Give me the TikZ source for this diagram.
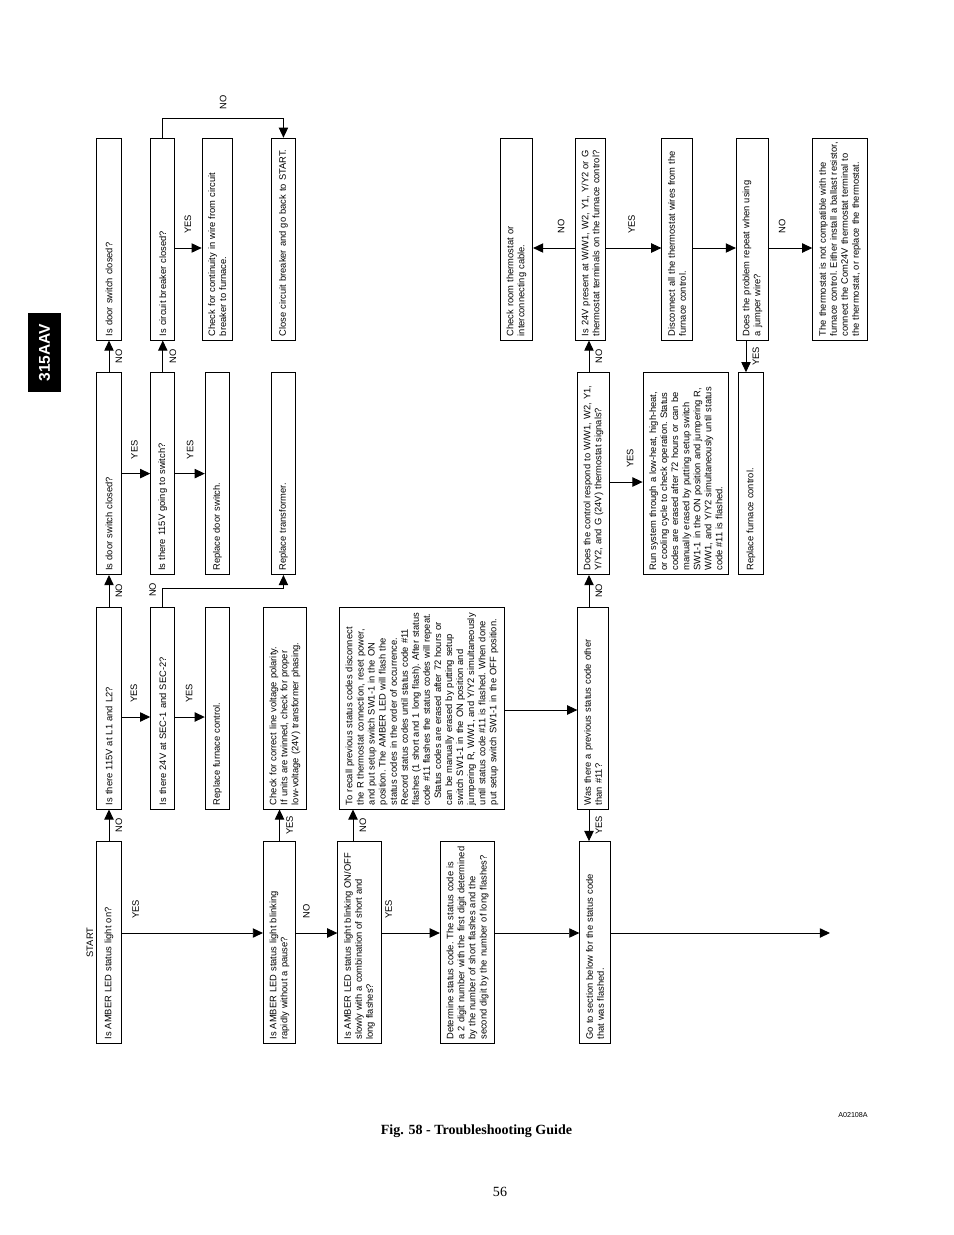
\documentclass[tikz,border=0pt]{standalone}
\usepackage{fontspec}
\setmainfont{Liberation Sans}
\newfontfamily\captionfont{Liberation Serif}
\usetikzlibrary{shapes,arrows.meta}
\tikzset{
  box/.style={draw, rectangle, line width=0.6pt, align=left, text width=124.5pt,
    inner xsep=2.5pt, inner ysep=4pt, minimum height=15.5pt,
    font=\fontsize{6}{7.1}\selectfont\frenchspacing},
  lbl/.style={inner xsep=9pt, inner ysep=4pt, font=\fontsize{6}{7}\selectfont},
}

\begin{document}
\begin{tikzpicture}[x=0.6415pt, y=0.6415pt, line width=0.6pt, >={Triangle[length=6.5pt,width=6pt]}]
    \useasboundingbox (0,0) rectangle (954,-1235);
    % page header and caption
    \node [fill=black, text=white, rotate=90, minimum width=50.7pt, minimum height=21.2pt,
        font=\bfseries\fontsize{10}{12}\selectfont] (model) at (44.5,-352.5) {315AAV};
    \node [font=\captionfont\bfseries\fontsize{9}{11}\selectfont] (caption) at (476.5,-1131) {Fig. 58 - Troubleshooting Guide};
    \node [font=\captionfont\fontsize{9}{11}\selectfont] (pageno) at (500,-1192) {56};
    \node [font=\fontsize{4.6}{6}\selectfont] (figid) at (853,-1115.5) {A02108A};

    \begin{scope}[shift={(0,-1235)}, rotate=90, transform shape, node distance=150.4pt]
    % Drawing blocks
    \node [box] (ledon) at (292.5,-109) {Is AMBER LED status light on?};
    \node [box, right of=ledon] (line115) {Is there 115V at L1 and L2?};
    \node [box, right of=line115] (door1) {Is door switch closed?};
    \node [box, right of=door1] (door2) {Is door switch closed?};
    \node [lbl, node distance=12.2pt, above of=ledon] (start) {START};

    \node [box, node distance=109.4pt, below of=ledon] (rapid) {Is AMBER LED status light blinking\\rapidly without a pause?};
    \node [box, node distance=51.3pt, below of=rapid] (slow) {Is AMBER LED status light blinking ON/OFF\\slowly with a combination of short and\\long flashes?};
    \node [box, node distance=69.3pt, below of=slow] (determ) {Determine status code.  The status code is\\a 2 digit number with the first digit determined\\by the number of short flashes and the\\second digit by the number of long flashes?};
    \node [box, node distance=81.8pt, below of=determ] (gosect) {Go to section below for the status code\\that was flashed.};

    \node [box, node distance=34.5pt, below of=line115] (sec24) {Is there 24V at SEC-1 and SEC-2?};
    \node [box, node distance=35pt, below of=sec24] (repctl1) {Replace furnace control.};
    \node [box, node distance=43.4pt, below of=repctl1] (polar) {Check for correct line voltage polarity.\\If units are twinned, check for proper\\low-voltage (24V) transformer phasing.};
    \node [box, node distance=87.9pt, below of=polar] (recall) {To recall previous status codes disconnect\\the R thermostat connection, reset power,\\and put setup switch SW1-1 in the ON\\position.  The AMBER LED will flash the\\status codes in the order of occurrence.\\Record status codes until status code \#11\\flashes (1 short and 1 long flash).  After status\\code \#11 flashes the status codes will repeat.\\\ \ Status codes are erased after 72 hours or\\can be manually erased by putting setup\\switch SW1-1 in the ON position and\\jumpering R, W/W1, and Y/Y2 simultaneously\\until status code \#11 is flashed.  When done\\put setup switch SW1-1 in the OFF position.};
    \node [box, node distance=109.7pt, below of=recall] (prevcode) {Was there a previous status code other\\than \#11?};

    \node [box, node distance=34.5pt, below of=door1] (sw115) {Is there 115V going to switch?};
    \node [box, node distance=35pt, below of=sw115] (repdoor) {Replace door switch.};
    \node [box, node distance=42.4pt, below of=repdoor] (reptrans) {Replace transformer.};
    \node [box, node distance=198.9pt, below of=reptrans] (respond) {Does the control respond to W/W1, W2, Y1,\\Y/Y2, and G (24V)  thermostat signals?};
    \node [box, node distance=59.3pt, below of=respond] (runsys) {Run system through a low-heat, high-heat,\\or cooling cycle to check operation.  Status\\codes are erased after 72 hours or can be\\manually erased by putting setup switch\\SW1-1 in the ON position and jumpering R,\\W/W1, and Y/Y2 simultaneously until status\\code \#11 is flashed.};
    \node [box, node distance=41.7pt, below of=runsys] (repctl2) {Replace furnace control.};

    \node [box, node distance=34.5pt, below of=door2] (breaker) {Is circuit breaker closed?};
    \node [box, node distance=35pt, below of=breaker] (contin) {Check for continuity in wire from circuit\\breaker to furnace.};
    \node [box, node distance=42.4pt, below of=contin] (closecb) {Close circuit breaker and go back to START.};
    \node [box, node distance=149.5pt, below of=closecb] (chkstat) {Check room thermostat or\\interconnecting cable.};
    \node [box, node distance=47.5pt, below of=chkstat] (present24) {Is 24V present at W/W1, W2, Y1, Y/Y2 or G\\thermostat terminals on the furnace control?};
    \node [box, node distance=55.5pt, below of=present24] (disconn) {Disconnect all the thermostat wires from the\\furnace control.};
    \node [box, node distance=48.4pt, below of=disconn] (jumper) {Does the problem repeat when using\\a jumper wire?};
    \node [box, node distance=56.1pt, below of=jumper] (notcomp) {The thermostat is not compatible with the\\furnace control.  Either install a ballast resistor,\\connect the Com24V thermostat terminal to\\the thermostat, or replace the thermostat.};

    % Guide points for the connectors
    \coordinate (yesrow) at (302,0);
    \coordinate (col2link) at (518,0);
    \coordinate (prevlink) at (525,0);
    \coordinate (runlink) at (753,0);
    \coordinate (col4link) at (987,0);
    \coordinate (bendsec) at (647,0);
    \coordinate (bendcb) at (1117,0);
    \coordinate (nolink) at (0,-353);
    \coordinate (codelink) at (0,-589);
    \coordinate (jumplink) at (0,-746);
    \coordinate (further) at (302,-830);

    % Connectors
    \draw [->] (ledon) -- node [lbl, below] {NO} (line115);
    \draw [->] (line115) -- node [lbl, below] {NO} (door1);
    \draw [->] (door1) -- node [lbl, below] {NO} (door2);
    \draw [->] (ledon.south -| yesrow) -- node [lbl, right, pos=0.1] {YES} (rapid.north -| yesrow);
    \draw [->] (rapid.south -| yesrow) -- node [lbl, right, pos=0.25] {NO} (slow.north -| yesrow);
    \draw [->] (slow.south -| yesrow) -- node [lbl, right, pos=0.12] {YES} (determ.north -| yesrow);
    \draw [->] (determ.south -| yesrow) -- (gosect.north -| yesrow);
    \draw [->] (gosect.south -| yesrow) -- (further);
    \draw [->] (rapid.east) -- node [lbl, below] {YES} (rapid.east -| polar.west);
    \draw [->] (slow.east |- nolink) -- node [lbl, below] {NO} (recall.west |- nolink);

    \draw [->] (line115.south -| col2link) -- node [lbl, right, pos=0.43] {YES} (sec24.north -| col2link);
    \draw [->] (sec24.south -| col2link) -- node [lbl, right, pos=0.47] {YES} (repctl1.north -| col2link);
    \draw [->] (sec24.east) -- node [lbl, above, pos=0.9] {NO} (sec24.east -| bendsec) |- (reptrans.west);
    \draw [->] (recall.south -| prevlink) -- (prevcode.north -| prevlink);
    \draw [->] (prevcode.east |- codelink) -- node [lbl, below] {NO} (respond.west |- codelink);
    \draw [->] (prevcode.west |- codelink) -- node [lbl, below] {YES} (gosect.east |- codelink);

    \draw [->] (door1) -- node [lbl, right, pos=0.45] {YES} (sw115);
    \draw [->] (sw115) -- node [lbl, right, pos=0.5] {YES} (repdoor);
    \draw [->] (sw115) -- node [lbl, below] {NO} (breaker);
    \draw [->] (respond.east |- codelink) -- node [lbl, below] {NO} (present24.west |- codelink);
    \draw [->] (respond.south -| runlink) -- node [lbl, right, pos=0.62] {YES} (runsys.north -| runlink);

    \draw [->] (breaker.south -| col4link) -- node [lbl, right, pos=0.48] {YES} (contin.north -| col4link);
    \draw [->] (breaker.east) -- (breaker.east -| bendcb) -- node [lbl, right, inner xsep=5pt] {NO} (closecb.east -| bendcb) -- (closecb.east);
    \draw [->] (present24.north -| col4link) -- node [lbl, right, pos=0.33] {NO} (chkstat.south -| col4link);
    \draw [->] (present24.south -| col4link) -- node [lbl, right, pos=0.46] {YES} (disconn.north -| col4link);
    \draw [->] (disconn.south -| col4link) -- (jumper.north -| col4link);
    \draw [->] (jumper.south -| col4link) -- node [lbl, right, pos=0.3] {NO} (notcomp.north -| col4link);
    \draw [->] (jumper.west |- jumplink) -- node [lbl, below] {YES} (repctl2.east |- jumplink);
    \end{scope}
\end{tikzpicture}
\end{document}
